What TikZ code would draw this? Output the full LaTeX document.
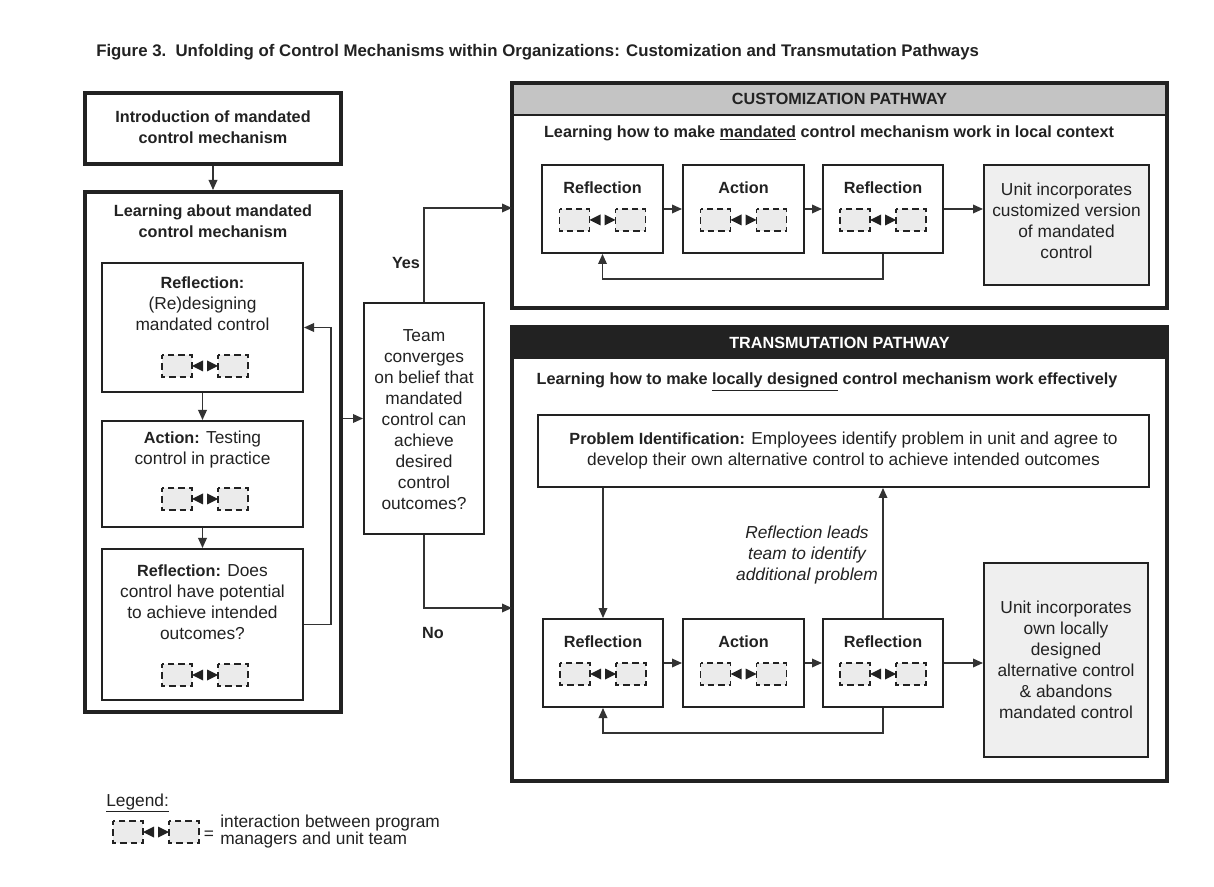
\documentclass[tikz,border=0pt]{standalone}
\usepackage{fontspec}
\setmainfont{Liberation Sans}
\usetikzlibrary{arrows.meta,fit}
\definecolor{ink}{HTML}{222222}
\definecolor{lnk}{HTML}{333333}
\definecolor{hdrgray}{HTML}{C4C4C4}
\definecolor{boxgray}{HTML}{EFEFEF}
\definecolor{icongray}{HTML}{EBEBEB}
\newcommand\fB{\fontsize{12.15}{15.75}\selectfont\bfseries}
\newcommand\fR{\fontsize{13}{15.75}\selectfont}
\tikzset{
  outerbox/.style={draw=ink, line width=3pt, inner sep=0pt},
  innerbox/.style={draw=ink, line width=1.5pt, inner sep=0pt},
  graybox/.style={innerbox, fill=boxgray},
  conn/.style={draw=lnk, line width=1pt},
  arr/.style={conn, -{Triangle[length=7.5pt,width=6.5pt]}},
  txt/.style={inner sep=0pt, align=center, text=ink},
  inter/.pic={
    \path[fill=icongray] (-43,-11) rectangle (-13,11) (13,-11) rectangle (43,11);
    \path[draw=ink, line width=1.4pt, dash pattern=on 4.8pt off 3pt, dash phase=1.5pt]
      (-43,-11) rectangle (-13,11) (13,-11) rectangle (43,11);
    \fill[ink] (-13,0) -- (-2,-5.5) -- (-2,5.5) -- cycle
               (13,0) -- (2,-5.5) -- (2,5.5) -- cycle;
  }
}
\begin{document}
\begin{tikzpicture}[x=0.75pt,y=-0.75pt]
\useasboundingbox[fill=white] (0,0) rectangle (1214,887);

\node[txt, anchor=west, font=\fontsize{12.6}{15}\selectfont\bfseries] (title) at (96,52)
  {Figure 3.\ \ Unfolding of Control Mechanisms within Organizations: Customization and Transmutation Pathways};

% ---------- left column ----------
\node[outerbox, fit={(85,93) (341,164)}] (intro) {};
\node[txt, font=\fB] (introtxt) at (213,127.5) {Introduction of mandated\\control mechanism};

\node[outerbox, fit={(85,192) (341,712)}] (learn) {};
\node[txt, font=\fB] (learntxt) at (213,221.5) {Learning about mandated\\control mechanism};

\node[innerbox, fit={(102,263) (303,392)}] (b1) {};
\node[txt, font=\fR] (b1txt) at (202.5,304) {{\fB Reflection:}\\(Re)designing\\mandated control};
\pic at (205,366) {inter};

\node[innerbox, fit={(102,421) (303,527)}] (b2) {};
\node[txt, font=\fR] (b2txt) at (202.5,450) {{\fB Action:} Testing\\control in practice};
\pic at (205,499) {inter};

\node[innerbox, fit={(102,549) (303,700)}] (b3) {};
\node[txt, font=\fR] (b3txt) at (202.5,602.5) {{\fB Reflection:} Does\\control have potential\\to achieve intended\\outcomes?};
\pic at (205,675) {inter};

\draw[arr] (intro.south) -- (learn.north);
\draw[arr] (b1.south) -- (b2.north);
\draw[arr] (b2.south) -- (b3.north);
\draw[arr] (b3.east) -- ++(27,0) |- (b1.east);

% ---------- decision ----------
\node[innerbox, fit={(364,303) (484,534)}] (team) {};
\node[txt, font=\fR] (teamtxt) at (424,420) {Team\\converges\\on belief that\\mandated\\control can\\achieve\\desired\\control\\outcomes?};
\draw[arr] (learn.east |- team.west) -- (team.west);

% ---------- customization ----------
\node[draw=ink, line width=2pt, fill=hdrgray, inner sep=0pt, fit={(512,83) (1167,115)}] (chead) {};
\node[txt, font=\fB] (cheadtxt) at (chead.center) {CUSTOMIZATION PATHWAY};
\node[outerbox, fit={(512,83) (1167,308)}] (cust) {};
\node[txt, font=\fB] (csub) at (829,133) {Learning how to make \underline{mandated} control mechanism work in local context};

\node[innerbox, fit={(542,165) (663,253)}] (cR1) {};
\node[innerbox, fit={(683,165) (804,253)}] (cA) {};
\node[innerbox, fit={(823,165) (943,253)}] (cR2) {};
\node[txt, font=\fB] (cR1t) at (602.5,188) {Reflection};
\node[txt, font=\fB] (cAt) at (743.5,188) {Action};
\node[txt, font=\fB] (cR2t) at (883,188) {Reflection};
\pic at (602.5,220) {inter};
\pic at (743.5,220) {inter};
\pic at (883,220) {inter};
\node[graybox, fit={(984,165) (1149,285)}] (cU) {};
\node[txt, font=\fR] (cUt) at (1066.5,221) {Unit incorporates\\customized version\\of mandated\\control};

\draw[arr] (cR1.east) -- (cA.west);
\draw[arr] (cA.east) -- (cR2.west);
\draw[arr] (cR2.east) -- (cR2.east -| cU.west);
\draw[arr] (cR2.south) -- ++(0,25) -| (cR1.south);

\coordinate (yesend) at (512,208);
\draw[arr] (team.north) |- (yesend);
\node[txt, font=\fB] (yes) at (406,263) {Yes};

% ---------- transmutation ----------
\node[draw=ink, line width=2pt, fill=ink, inner sep=0pt, fit={(512,327) (1167,358)}] (thead) {};
\node[txt, text=white, font=\fB] (theadtxt) at (thead.center) {TRANSMUTATION PATHWAY};
\node[outerbox, fit={(512,327) (1167,781)}] (trans) {};
\node[txt, font=\fB] (tsub) at (827,382) {Learning how to make \underline{locally designed} control mechanism work effectively};

\node[innerbox, fit={(538,415) (1149,487)}] (pi) {};
\node[txt, font=\fR] (pitxt) at (843.5,451) {{\fB Problem Identification:} Employees identify problem in unit and agree to\\develop their own alternative control to achieve intended outcomes};

\node[innerbox, fit={(543,619) (663,707)}] (tR1) {};
\node[innerbox, fit={(683,619) (804,707)}] (tA) {};
\node[innerbox, fit={(823,619) (943,707)}] (tR3) {};
\node[txt, font=\fB] (tR1t) at (603,642) {Reflection};
\node[txt, font=\fB] (tAt) at (743.5,642) {Action};
\node[txt, font=\fB] (tR3t) at (883,642) {Reflection};
\pic at (603,674) {inter};
\pic at (743.5,674) {inter};
\pic at (883,674) {inter};
\node[graybox, fit={(984,563) (1148,757)}] (tU) {};
\node[txt, font=\fR] (tUt) at (1066,660) {Unit incorporates\\own locally\\designed\\alternative control\\\& abandons\\mandated control};

\draw[arr] (tR1.north |- pi.south) -- (tR1.north);
\draw[arr] (tR3.north) -- (tR3.north |- pi.south);
\node[txt, font=\fR\itshape] (itl) at (807,555) {Reflection leads\\team to identify\\additional problem};
\draw[arr] (tR1.east) -- (tA.west);
\draw[arr] (tA.east) -- (tR3.west);
\draw[arr] (tR3.east) -- (tR3.east -| tU.west);
\draw[arr] (tR3.south) -- ++(0,25) -| (tR1.south);

\coordinate (noend) at (512,608);
\draw[arr] (team.south) |- (noend);
\node[txt, font=\fB] (no) at (433,633) {No};

% ---------- legend ----------
\node[txt, anchor=west, font=\fR] (leg) at (106,803) {\underline{Legend:}};
\pic at (156,832) {inter};
\node[txt, font=\fR] (eq) at (209,835) {=};
\node[txt, anchor=west, align=left, font=\fontsize{13}{12.75}\selectfont] (legtxt) at (220,831.5) {interaction between program\\managers and unit team};
\end{tikzpicture}
\end{document}
